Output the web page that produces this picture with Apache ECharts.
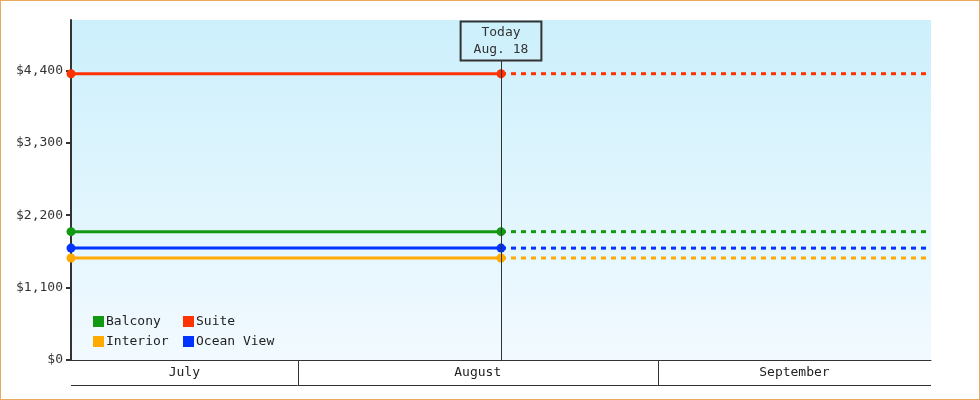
<!DOCTYPE html>
<html>
<head>
<meta charset="utf-8">
<script src="https://cdn.jsdelivr.net/npm/echarts@6/dist/echarts.min.js"></script>
<style>
  body { margin: 0; background: #fff; }
  #wrap { position: relative; width: 980px; height: 400px; }
  #main { width: 980px; height: 400px; }
  #frame { position: absolute; left: 0; top: 0; right: 0; bottom: 0; border: 1px solid #e9a960; pointer-events: none; }
</style>
</head>
<body>
<div id="wrap"><div id="main"></div><div id="frame"></div></div>
<script>
const cabinNames = ['Balcony', 'Suite', 'Interior', 'Ocean View'];
const cabinPrices = [1950, 4350, 1550, 1700];
const cabinColors = ['#119911', '#ff3300', '#ffaa00', '#0033ff'];

const rangeStart = '2016-07-12 12:00';
const today = '2016-08-18 12:00';
const rangeEnd = '2016-09-24 12:00';
const todayLabel = 'Today\nAug. 18';

const months = ['July', 'August', 'September'];
const monthStarts = ['2016-07-01', '2016-08-01', '2016-09-01', '2016-10-01'];

const yMax = 5166;
const yTicks = [0, 1100, 2200, 3300, 4400];

const font = 'DejaVu Sans Mono';
const dom = document.getElementById('main');
const myChart = echarts.init(dom);

const series = [];
cabinNames.forEach((name, i) => {
  const solid = {
    name: name,
    type: 'line',
    color: cabinColors[i],
    data: [[rangeStart, cabinPrices[i]], [today, cabinPrices[i]]],
    symbol: 'circle',
    symbolSize: 9,
    showAllSymbol: true,
    lineStyle: { width: 3 },
    z: 3
  };
  if (i === 0) {
    solid.markLine = {
      silent: true,
      symbol: 'none',
      lineStyle: { color: '#333', width: 1, type: 'solid' },
      label: {
        position: 'end',
        distance: 0,
        formatter: todayLabel,
        fontFamily: font,
        fontSize: 13,
        lineHeight: 17,
        color: '#333',
        align: 'center',
        borderColor: '#333',
        borderWidth: 1,
        padding: [3, 13, 2, 13],
        backgroundColor: 'transparent'
      },
      data: [[{ coord: [today, 0] }, { coord: [today, yMax * 0.881] }]]
    };
  }
  series.push(solid);
  series.push({
    name: name,
    type: 'line',
    color: cabinColors[i],
    data: [[today, cabinPrices[i]], [rangeEnd, cabinPrices[i]]],
    showSymbol: false,
    lineStyle: { width: 3, type: [5, 5] },
    z: 2
  });
});

// month band under the axis
series.push({
  type: 'custom',
  clip: false,
  silent: true,
  dimensions: [{ name: 'from', type: 'time' }, { name: 'to', type: 'time' }],
  encode: { x: [0, 1] },
  data: months.map((m, i) => [monthStarts[i], monthStarts[i + 1]]),
  renderItem: (params, api) => {
    const cs = params.coordSys;
    const bottom = cs.y + cs.height;
    const x0 = api.coord([api.value(0), 0])[0];
    const x1 = api.coord([api.value(1), 0])[0];
    const left = Math.max(x0, cs.x);
    const right = Math.min(x1, cs.x + cs.width);
    if (right <= left) return;
    const children = [
      { type: 'line', shape: { x1: left, y1: bottom + 25.5, x2: right, y2: bottom + 25.5 }, style: { stroke: '#333', lineWidth: 1 } },
      { type: 'text', style: { text: months[params.dataIndex], x: (left + right) / 2, y: bottom + 13, align: 'center', verticalAlign: 'middle', font: '13px ' + font, fill: '#222' } }
    ];
    if (x0 > cs.x) {
      const lx = Math.round(left) + 0.5;
      children.push({ type: 'line', shape: { x1: lx, y1: bottom, x2: lx, y2: bottom + 25 }, style: { stroke: '#333', lineWidth: 1 } });
    }
    return { type: 'group', children: children };
  }
});

const legendBase = {
  orient: 'vertical',
  top: 315,
  padding: 0,
  itemWidth: 11,
  itemHeight: 11,
  itemGap: 7,
  icon: 'rect',
  selectedMode: false,
  textStyle: { fontFamily: font, fontSize: 13, color: '#222', padding: [0, 0, 0, -3] }
};

const option = {
  animation: false,
  grid: {
    left: 71, right: 49, top: 20, bottom: 40,
    show: true,
    borderWidth: 0,
    backgroundColor: new echarts.graphic.LinearGradient(0, 0, 0, 1, [
      { offset: 0, color: '#ccf0fc' },
      { offset: 1, color: '#f2faff' }
    ])
  },
  legend: [
    Object.assign({}, legendBase, { left: 93, data: ['Balcony', 'Interior'] }),
    Object.assign({}, legendBase, { left: 183, data: ['Suite', 'Ocean View'] })
  ],
  xAxis: {
    type: 'time',
    min: rangeStart,
    max: rangeEnd,
    axisLabel: { show: false },
    axisTick: { show: false },
    splitLine: { show: false },
    axisLine: { lineStyle: { color: '#333', width: 1 } }
  },
  yAxis: {
    type: 'value',
    min: 0,
    max: yMax,
    splitLine: { show: false },
    axisLine: { show: true, lineStyle: { color: '#333', width: 2 } },
    axisTick: { show: true, length: 5, customValues: yTicks, lineStyle: { color: '#333', width: 2 } },
    axisLabel: {
      fontFamily: font, fontSize: 13, color: '#333', margin: 8,
      customValues: yTicks,
      formatter: (v) => '$' + v.toLocaleString('en-US')
    }
  },
  series: series
};

myChart.setOption(option);
window.addEventListener('resize', myChart.resize);
</script>
</body>
</html>
